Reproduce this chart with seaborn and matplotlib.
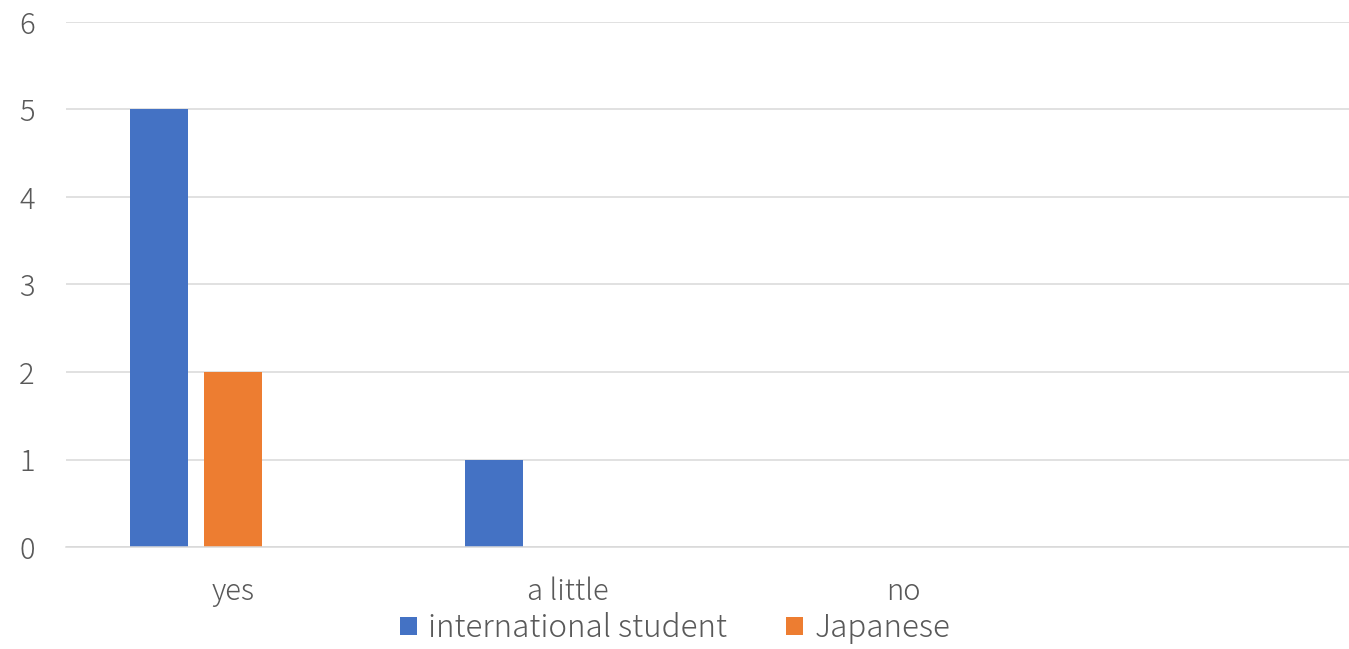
import pandas as pd
import matplotlib
matplotlib.use('Agg')
import matplotlib.pyplot as plt
import seaborn as sns

# data
categories = ['yes', 'a little', 'no', '']
international = [5, 1, 0, 0]
japanese = [2, 0, 0, 0]
series3 = [0, 0, 0, 0]   # empty third series (keeps the Excel bar spacing)
series_names = ['international student', 'Japanese', ' ']
colors = ['#4472C4', '#ED7D31', '#A5A5A5']

rows = []
for name, vals in zip(series_names, [international, japanese, series3]):
    for c, v in zip(categories, vals):
        rows.append({'cat': c, 'series': name, 'value': v})
df = pd.DataFrame(rows)

sns.set_style('white')
plt.rcParams['font.family'] = ['Noto Sans CJK JP', 'DejaVu Sans']
plt.rcParams['font.weight'] = 'light'

fig = plt.figure(figsize=(13.49, 6.49), dpi=100)
ax = fig.add_axes([65.5 / 1349, (649 - 547) / 649, 1 - 65.5 / 1349, (547 - 22) / 649])

sns.barplot(data=df, x='cat', y='value', hue='series', order=categories,
            hue_order=series_names, palette=colors, width=0.663, gap=0.216,
            saturation=1, linewidth=0, ax=ax, legend=True)

ax.set_xlim(-0.5, 3.331)
ax.set_ylim(0, 6)
ax.set_yticks(range(0, 7))
ax.set_xlabel('')
ax.set_ylabel('')
ax.grid(axis='y', color='#d9d9d9', linewidth=1.1)
ax.set_axisbelow(True)
for s in ['top', 'right', 'left']:
    ax.spines[s].set_visible(False)
ax.spines['bottom'].set_color('#d9d9d9')
ax.spines['bottom'].set_linewidth(1.1)
ax.tick_params(axis='y', length=0, pad=22, labelsize=21, labelcolor='#595959')
ax.tick_params(axis='x', length=0, pad=21, labelsize=21, labelcolor='#595959')

handles, labels = ax.get_legend_handles_labels()
ax.get_legend().remove()
fig.legend(handles[:2], labels[:2], loc='center', bbox_to_anchor=(675 / 1349, 1 - 628 / 649),
           ncol=2, frameon=False, fontsize=22.5, labelcolor='#595959',
           handlelength=0.55, handleheight=0.55, handletextpad=0.35, columnspacing=1.9)

fig.savefig('out.png', dpi=100)
